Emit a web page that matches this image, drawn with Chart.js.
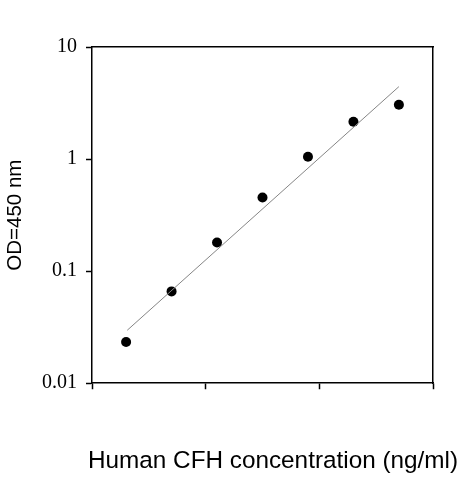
<!DOCTYPE html>
<html>
<head>
<meta charset="utf-8">
<script src="https://cdn.jsdelivr.net/npm/chart.js@4.4.0/dist/chart.umd.min.js"></script>
<style>
  html, body { margin: 0; padding: 0; background: #fff; }
  #wrap { width: 463px; height: 480px; }
</style>
</head>
<body>
<div id="wrap"><canvas id="c" width="463" height="480"></canvas></div>
<script>
// Data
const xPositions = [0.3, 0.7, 1.1, 1.5, 1.9, 2.3, 2.7];
const odValues = [0.0233, 0.066, 0.18, 0.454, 1.05, 2.15, 3.05];
const fitX = [0.31, 2.7];
const fitY = [0.0297, 4.43];
const yTickValues = [0.01, 0.1, 1, 10];
const yTickLabels = ['0.01', '0.1', '1', '10'];
const xTickValues = [0, 1, 2, 3];
const xTitle = 'Human CFH concentration (ng/ml)';
const yTitle = 'OD=450 nm';

const points = xPositions.map((x, i) => ({ x: x, y: odValues[i] }));
const fitLine = fitX.map((x, i) => ({ x: x, y: fitY[i] }));

new Chart(document.getElementById('c'), {
  type: 'scatter',
  data: {
    datasets: [
      {
        type: 'line',
        data: fitLine,
        borderColor: '#858585',
        borderWidth: 1,
        pointRadius: 0,
        fill: false,
        tension: 0
      },
      {
        type: 'scatter',
        data: points,
        backgroundColor: '#000',
        borderColor: '#000',
        borderWidth: 0,
        pointRadius: 5
      }
    ]
  },
  options: {
    responsive: false,
    animation: false,
    layout: { padding: { left: 0, right: 5, top: 0, bottom: 0 } },
    plugins: {
      legend: { display: false },
      tooltip: { enabled: false },
      title: {
        display: true,
        position: 'bottom',
        align: 'end',
        text: xTitle,
        color: '#000',
        font: { family: 'Liberation Sans', size: 24.3, weight: 'normal', lineHeight: 1.2 },
        padding: { top: 0, bottom: 4 }
      }
    },
    scales: {
      x: {
        type: 'linear',
        position: 'bottom',
        min: 0,
        max: 3,
        afterBuildTicks: (s) => { s.ticks = xTickValues.map(v => ({ value: v })); },
        afterFit: (s) => { s.height = 63.6; },
        ticks: { display: false },
        grid: { drawOnChartArea: false, drawTicks: true, tickLength: 6, color: '#000', tickWidth: 1.5 },
        border: { display: true, color: '#000', width: 1.5 }
      },
      y: {
        type: 'logarithmic',
        position: 'left',
        min: 0.01,
        max: 10,
        afterBuildTicks: (s) => { s.ticks = yTickValues.map(v => ({ value: v })); },
        afterFit: (s) => { s.width = 92; },
        ticks: {
          color: '#000',
          padding: 9,
          font: { family: 'Liberation Serif', size: 20 },
          callback: (v) => { const i = yTickValues.indexOf(v); return i >= 0 ? yTickLabels[i] : ''; }
        },
        grid: { drawOnChartArea: false, drawTicks: true, tickLength: 6, color: '#000', tickWidth: 1.5 },
        border: { display: true, color: '#000', width: 1.5 },
        title: {
          display: true,
          text: yTitle,
          color: '#000',
          font: { family: 'Liberation Sans', size: 20.5, lineHeight: 1.2 },
          padding: { top: 3, bottom: 0 }
        }
      },
      xTop: {
        type: 'linear',
        position: 'top',
        afterFit: (s) => { s.height = 47; },
        ticks: { display: false },
        grid: { display: false },
        border: { display: true, color: '#000', width: 1.5 }
      },
      yRight: {
        type: 'linear',
        position: 'right',
        afterFit: (s) => { s.width = 25; },
        ticks: { display: false },
        grid: { display: false },
        border: { display: true, color: '#000', width: 1.5 }
      }
    }
  }
});
</script>
</body>
</html>
